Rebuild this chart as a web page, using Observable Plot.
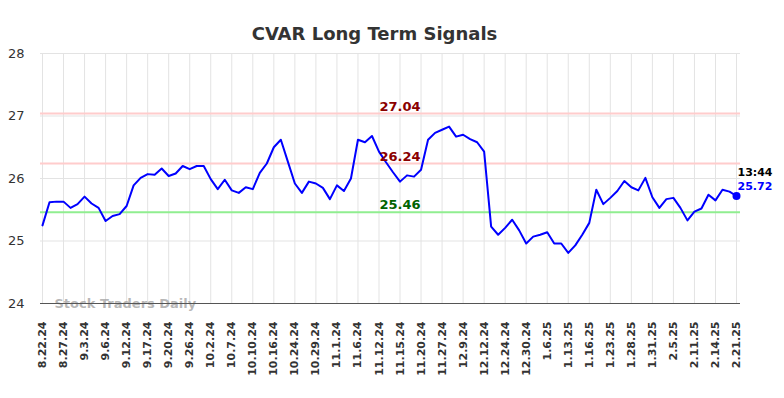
<!DOCTYPE html>
<html>
<head>
<meta charset="utf-8">
<script src="https://cdn.jsdelivr.net/npm/d3@7"></script>
<script src="https://cdn.jsdelivr.net/npm/@observablehq/plot@0.6"></script>
<style>
  html, body { margin: 0; padding: 0; background: #fff; }
  #chart svg { display: block; }
</style>
</head>
<body>
<div id="chart"></div>
<script>
const tickLabels = ["8.22.24","8.27.24","9.3.24","9.6.24","9.12.24","9.17.24","9.20.24","9.26.24","10.2.24","10.7.24","10.10.24","10.16.24","10.24.24","10.29.24","11.1.24","11.6.24","11.12.24","11.15.24","11.20.24","11.27.24","12.9.24","12.12.24","12.24.24","12.30.24","1.6.25","1.13.25","1.16.25","1.23.25","1.28.25","1.31.25","2.5.25","2.11.25","2.14.25","2.21.25"];

const prices = [25.25,25.62,25.63,25.63,25.53,25.59,25.71,25.60,25.53,25.32,
25.40,25.43,25.56,25.89,26.01,26.07,26.06,26.16,26.04,26.08,
26.20,26.15,26.20,26.20,25.99,25.83,25.98,25.81,25.77,25.86,
25.83,26.09,26.24,26.50,26.62,26.27,25.92,25.77,25.95,25.92,
25.85,25.67,25.89,25.80,26.00,26.62,26.58,26.68,26.43,26.26,
26.10,25.95,26.05,26.03,26.14,26.62,26.73,26.78,26.83,26.67,
26.70,26.63,26.58,26.43,25.23,25.10,25.21,25.34,25.17,24.96,
25.07,25.10,25.14,24.96,24.96,24.81,24.93,25.10,25.29,25.82,
25.59,25.69,25.80,25.96,25.86,25.81,26.01,25.70,25.53,25.67,
25.69,25.53,25.33,25.47,25.52,25.74,25.65,25.82,25.79,25.72];

const signalValues = [27.04, 26.24, 25.46];
const signalLabels = ["27.04", "26.24", "25.46"];
const lastTime = "13:44";
const yTicks = [24, 25, 26, 27, 28];

const data = prices.map((v, i) => ({i, v}));
const tickIdx = tickLabels.map((_, k) => k * 3);
const signals = signalValues.map((v, k) => ({v, label: signalLabels[k], kind: k < 2 ? "high" : "low"}));
const last = data[data.length - 1];
const font = "DejaVu Sans, sans-serif";

const chart = Plot.plot({
  width: 784,
  height: 398,
  marginLeft: 42,
  marginRight: 48,
  marginTop: 53,
  marginBottom: 95,
  style: {fontFamily: font, background: "#fff", overflow: "visible"},
  x: {domain: [0, prices.length - 1], axis: null, label: null},
  y: {domain: [24, 28], axis: null, label: null},
  marks: [
    // grid
    Plot.ruleY(yTicks.slice(1), {stroke: "#e3e3e3", strokeWidth: 1, insetLeft: -2, insetRight: -4}),
    Plot.ruleX(tickIdx, {stroke: "#e3e3e3", strokeWidth: 1}),
    // signal lines
    Plot.ruleY(signals, {y: "v", stroke: d => d.kind === "high" ? "#ffcccc" : "#90ee90", strokeWidth: 2, insetLeft: -2, insetRight: -4}),
    // axes
    Plot.axisY({ticks: yTicks, label: null, tickSize: 0, tickPadding: 18, fontSize: 13, color: "#333", tickFormat: d => String(d)}),
    Plot.axisX({ticks: tickIdx, label: null, tickSize: 0, tickPadding: 18, tickRotate: -90, fontSize: 11, fontWeight: "bold", color: "#333", tickFormat: i => tickLabels[Math.round(i / 3)]}),
    // watermark
    Plot.text(["Stock Traders Daily"], {frameAnchor: "bottom-left", dx: 12, textAnchor: "start", lineAnchor: "middle", fontSize: 13, fontWeight: "bold", fill: "#aaa", fillOpacity: 0.85}),
    // bottom axis line
    Plot.ruleY([24], {stroke: "#555", strokeWidth: 1, insetLeft: -2, insetRight: -4}),
    // price line
    Plot.line(data, {x: "i", y: "v", stroke: "#0000ff", strokeWidth: 2}),
    // signal labels
    Plot.text(signals, {x: 51, y: "v", text: "label", dy: -7, fontSize: 13, fontWeight: "bold", fill: d => d.kind === "high" ? "#8b0000" : "#006400"}),
    // last point
    Plot.dot([last], {x: "i", y: "v", r: 4, fill: "#0000ff"}),
    Plot.text([last], {x: "i", y: "v", text: () => lastTime, dy: -24, dx: 1, textAnchor: "start", fontSize: 11, fontWeight: "bold", fill: "#000"}),
    Plot.text([last], {x: "i", y: "v", text: d => d.v.toFixed(2), dy: -10, dx: 1, textAnchor: "start", fontSize: 11, fontWeight: "bold", fill: "#0000ff"}),
    // title
    Plot.text(["CVAR Long Term Signals"], {frameAnchor: "top", dy: -26, dx: -15, fontSize: 18, fontWeight: "bold", fill: "#333"})
  ]
});
document.getElementById("chart").appendChild(chart);
</script>
</body>
</html>
